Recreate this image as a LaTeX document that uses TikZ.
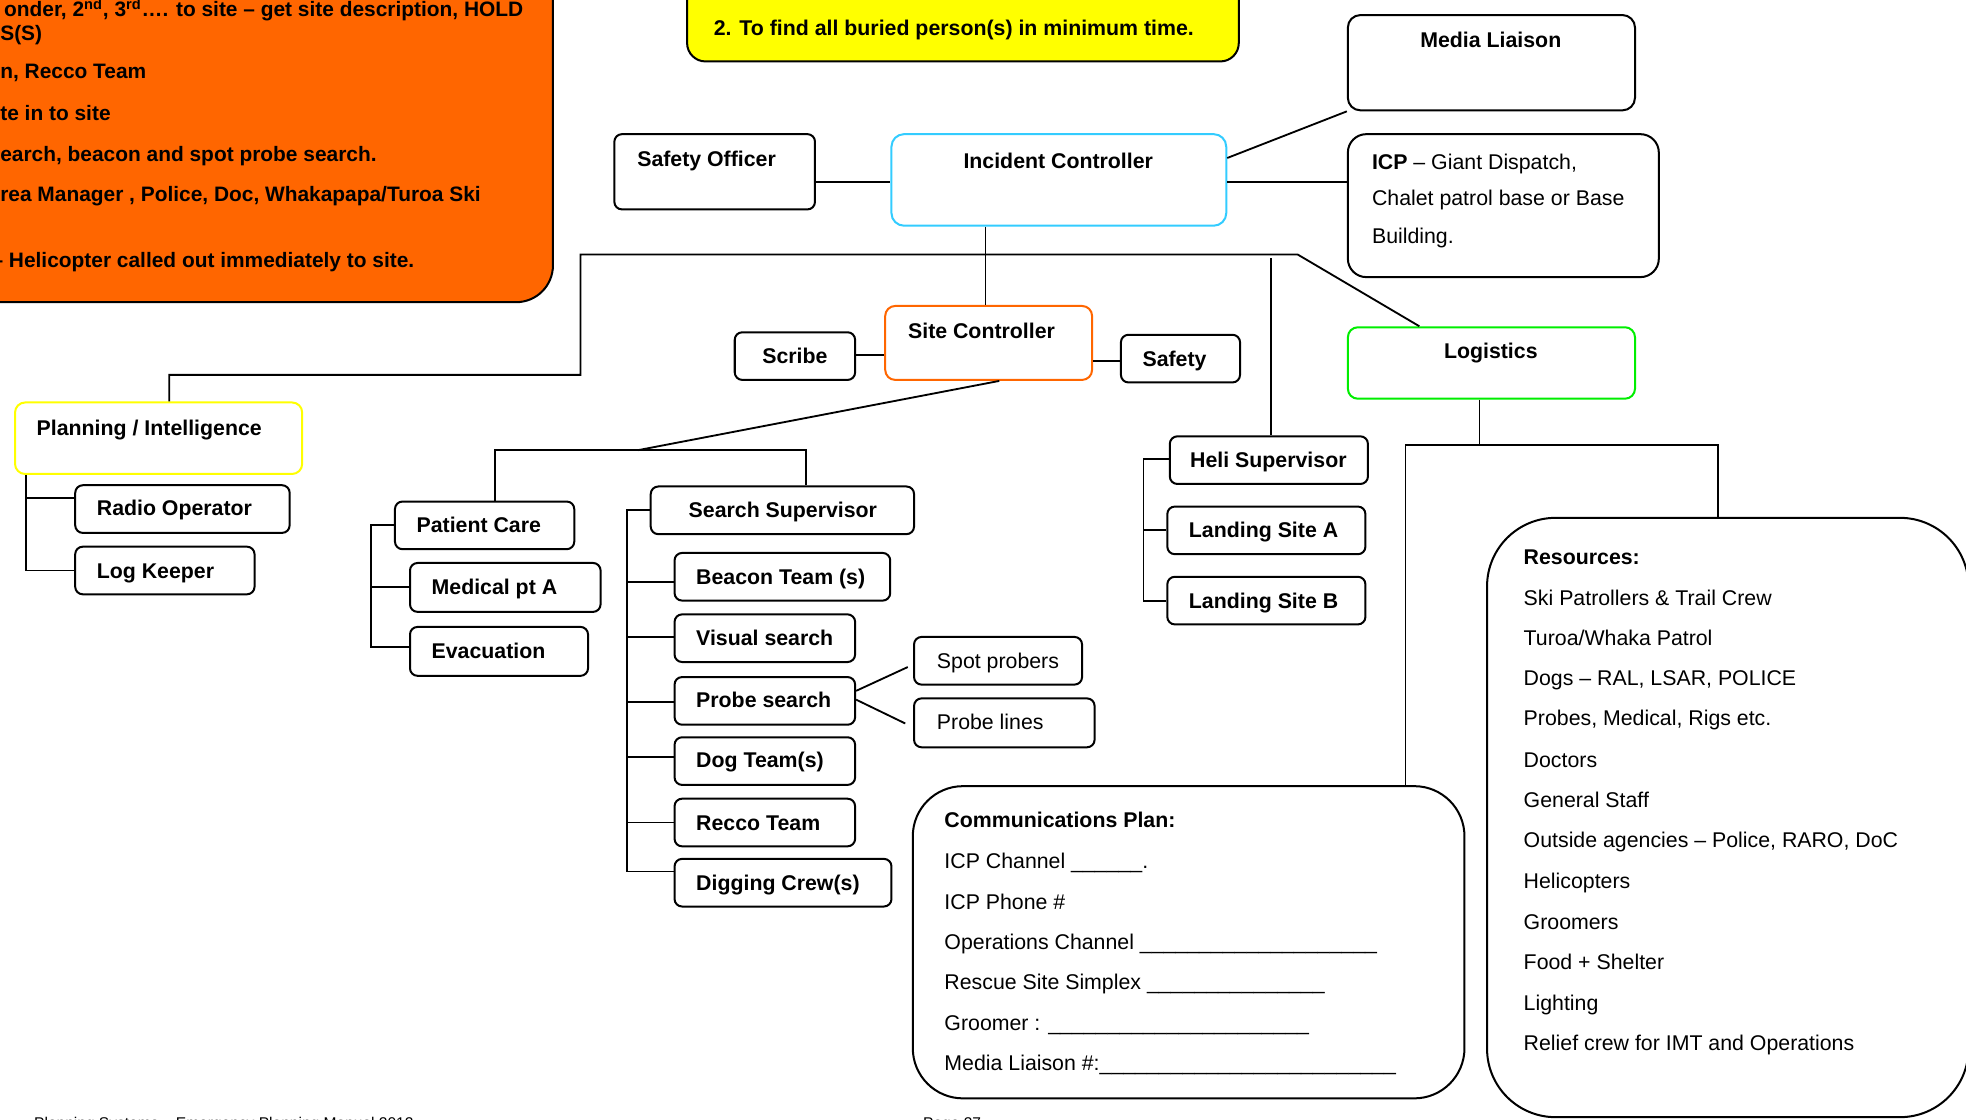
\documentclass[tikz,border=0pt]{standalone}
\usepackage{fontspec}
\setmainfont{Liberation Sans}
\usetikzlibrary{fit}
\definecolor{orangeA}{HTML}{FF6600}
\definecolor{yellowA}{HTML}{FFFF00}
\definecolor{cyanA}{HTML}{33CCFF}
\definecolor{greenA}{HTML}{00EE00}
\newcommand\mkbox[6][]{\node[box,#1,fit={(#3,#4) (#5,#6)}] (#2) {};}
\tikzset{
 box/.style={draw=black, line width=1.2pt, rounded corners=4.5pt, inner sep=0pt, fill=white},
 bt/.style={font=\fontsize{12.75}{15}\selectfont\bfseries, inner sep=0pt, anchor=base west},
 btc/.style={bt, anchor=base},
 rt/.style={font=\fontsize{12.75}{15}\selectfont, inner sep=0pt, anchor=base west},
 ot/.style={font=\fontsize{12.5}{15}\selectfont\bfseries, inner sep=0pt, anchor=base west},
 ft/.style={font=\fontsize{9.3}{11}\selectfont, inner sep=0pt, anchor=base west},
 conn/.style={draw=black, line width=1.1pt},
}
\begin{document}
\begin{tikzpicture}[x=0.75pt,y=-0.75pt]
\useasboundingbox (0,0) rectangle (1568,893);
% orange note
\node[draw=black, line width=1.2pt, fill=orangeA, rounded corners=22pt, inner sep=0pt, fit={(-60,-80) (441,241)}] (ob) {};
\node[ot] (o1) at (3,13) {onder, 2\textsuperscript{nd}, 3\textsuperscript{rd}…. to site – get site description, HOLD};
\node[ot] (o2) at (0,32) {S(S)};
\node[ot] (o3) at (0,63) {n, Recco Team};
\node[ot] (o4) at (0,96) {te in to site};
\node[ot] (o5) at (0,129) {earch, beacon and spot probe search.};
\node[ot] (o6) at (0,161) {rea Manager , Police, Doc, Whakapapa/Turoa Ski};
\node[ot] (o7) at (-7,213) {– Helicopter called out immediately to site.};
% yellow note
\node[draw=black, line width=1.2pt, fill=yellowA, rounded corners=11pt, inner sep=0pt, fit={(548,-60) (988,49)}] (yb) {};
\node[bt] (y1) at (569,28) {2. To find all buried person(s) in minimum time.};
% boxes
\mkbox{so}{490}{107}{650}{167}
\mkbox[draw=cyanA, rounded corners=7.5pt]{ic}{711}{107}{978}{180}
\mkbox[rounded corners=7.5pt]{ml}{1075}{12}{1304}{88}
\mkbox[rounded corners=11pt]{icp}{1075}{107}{1323}{221}
\mkbox[draw=orangeA, rounded corners=6pt]{sc}{706}{244}{871}{303}
\mkbox{scr}{586}{265}{682}{303}
\mkbox{saf}{894}{267}{989}{305}
\mkbox[draw=greenA, rounded corners=6pt]{log}{1075}{261}{1304}{318}
\mkbox[draw=yellowA, rounded corners=6pt]{pi}{12}{321}{241}{378}
\mkbox{ro}{60}{387}{231}{425}
\mkbox{lk}{60}{436}{203}{474}
\mkbox{pc}{315}{400}{458}{438}
\mkbox{mp}{327}{449}{479}{488}
\mkbox{ev}{327}{500}{469}{539}
\mkbox{ss}{519}{388}{729}{426}
\mkbox{bcn}{538}{441}{710}{479}
\mkbox{vis}{538}{490}{682}{528}
\mkbox{prb}{538}{540}{682}{578}
\mkbox{dog}{538}{588}{682}{626}
\mkbox{rec}{538}{637}{682}{675}
\mkbox{dig}{538}{685}{711}{723}
\mkbox{spp}{729}{508}{863}{546}
\mkbox{prl}{729}{557}{873}{596}
\mkbox{hs}{933}{348}{1091}{386}
\mkbox{lsa}{931}{404}{1089}{442}
\mkbox{lsb}{931}{460}{1089}{498}
\mkbox[rounded corners=30pt]{cp}{728}{627}{1168}{876}
\mkbox[rounded corners=41pt]{res}{1186}{413}{1570}{891}
% texts
\node[bt] (so-t) at (508,133) {Safety Officer};
\node[btc] (ic-t) at (844,134) {Incident Controller};
\node[btc] (ml-t) at (1189,38) {Media Liaison};
\node[rt] (icp-t1) at (1094,135) {\textbf{ICP} – Giant Dispatch,};
\node[rt] (icp-t2) at (1094,164) {Chalet patrol base or Base};
\node[rt] (icp-t3) at (1094,194) {Building.};
\node[bt] (sc-t) at (724,270) {Site Controller};
\node[btc] (scr-t) at (634,290) {Scribe};
\node[bt] (saf-t) at (911,292) {Safety};
\node[btc] (log-t) at (1189,286) {Logistics};
\node[bt] (pi-t) at (29,347) {Planning / Intelligence};
\node[bt] (ro-t) at (77,411) {Radio Operator};
\node[bt] (lk-t) at (77,461) {Log Keeper};
\node[bt] (pc-t) at (332,425) {Patient Care};
\node[bt] (mp-t) at (344,474) {Medical pt A};
\node[bt] (ev-t) at (344,525) {Evacuation};
\node[bt] (ss-t) at (549,413) {Search Supervisor};
\node[bt] (bcn-t) at (555,466) {Beacon Team (s)};
\node[bt] (vis-t) at (555,515) {Visual search};
\node[bt] (prb-t) at (555,564) {Probe search};
\node[bt] (dog-t) at (555,612) {Dog Team(s)};
\node[bt] (rec-t) at (555,662) {Recco Team};
\node[bt] (dig-t) at (555,710) {Digging Crew(s)};
\node[rt] (spp-t) at (747,533) {Spot probers};
\node[rt] (prl-t) at (747,582) {Probe lines};
\node[bt] (hs-t) at (949,373) {Heli Supervisor};
\node[bt] (lsa-t) at (948,429) {Landing Site A};
\node[bt] (lsb-t) at (948,485) {Landing Site B};
% communications plan
\node[bt] (c0) at (753,660) {Communications Plan:};
\node[rt] (c1) at (753,693) {ICP Channel \_\_\_\_\_\_.};
\node[rt] (c2) at (753,725) {ICP Phone \#};
\node[rt] (c3) at (753,757) {Operations Channel \_\_\_\_\_\_\_\_\_\_\_\_\_\_\_\_\_\_\_\_};
\node[rt] (c4) at (753,789) {Rescue Site Simplex \_\_\_\_\_\_\_\_\_\_\_\_\_\_\_};
\node[rt] (c5) at (753,822) {Groomer : \_\_\_\_\_\_\_\_\_\_\_\_\_\_\_\_\_\_\_\_\_\_};
\node[rt] (c6) at (753,854) {Media Liaison \#:\_\_\_\_\_\_\_\_\_\_\_\_\_\_\_\_\_\_\_\_\_\_\_\_\_};
% resources
\node[bt] (r0) at (1215,450) {Resources:};
\node[rt] (r1) at (1215,483) {Ski Patrollers \& Trail Crew};
\node[rt] (r2) at (1215,515) {Turoa/Whaka Patrol};
\node[rt] (r3) at (1215,547) {Dogs – RAL, LSAR, POLICE};
\node[rt] (r4) at (1215,579) {Probes, Medical, Rigs etc.};
\node[rt] (r5) at (1215,612) {Doctors};
\node[rt] (r6) at (1215,644) {General Staff};
\node[rt] (r7) at (1215,676) {Outside agencies – Police, RARO, DoC};
\node[rt] (r8) at (1215,709) {Helicopters};
\node[rt] (r9) at (1215,741) {Groomers};
\node[rt] (r10) at (1215,773) {Food + Shelter};
\node[rt] (r11) at (1215,806) {Lighting};
\node[rt] (r12) at (1215,838) {Relief crew for IMT and Operations};
% footer
\node[ft] (ft1) at (27,900) {Planning Systems – Emergency Planning Manual 2012};
\node[ft] (ft2) at (736,900) {Page 37};
% connectors
\draw[conn] (so.east |- 0,145) -- (ic.west |- 0,145);
\draw[conn] (ic.east |- 0,126) -- (ml.south west);
\draw[conn] (ic.east |- 0,145) -- (icp.west |- 0,145);
\draw[conn] (ic.south -| 786,0) -- (sc.north -| 786,0);
\draw[conn] (pi.north -| 135,0) |- (463,299) -- (463,203) -- (1035,203) -- (log.north -| 1132,0);
\coordinate (hj) at (1014,206);
\draw[conn] (hj) -- (hs.north -| 1014,0);
\draw[conn] (scr.east |- 0,283) -- (sc.west |- 0,283);
\draw[conn] (sc.east |- 0,288) -- (saf.west |- 0,288);
\draw[conn] (sc.south -| 797,0) -- (509,359);
\draw[conn] (pc.north -| 395,0) -- (395,359) -- (643,359) -- (ss.north -| 643,0);
\draw[conn] (pi.south -| 21,0) -- (21,455) -- (lk.west |- 0,455);
\draw[conn] (21,397) -- (ro.west |- 0,397);
\draw[conn] (pc.west |- 0,419) -- (296,419) -- (296,516) -- (ev.west |- 0,516);
\draw[conn] (296,468) -- (mp.west |- 0,468);
\draw[conn] (ss.west |- 0,407) -- (500,407) -- (500,695) -- (dig.west |- 0,695);
\draw[conn] (500,464) -- (bcn.west |- 0,464);
\draw[conn] (500,508) -- (vis.west |- 0,508);
\draw[conn] (500,560) -- (prb.west |- 0,560);
\draw[conn] (500,604) -- (dog.west |- 0,604);
\draw[conn] (500,656) -- (rec.west |- 0,656);
\coordinate (spin) at (724,532);
\coordinate (plin) at (722,577);
\draw[conn] (prb.east |- 0,551) -- (spin);
\draw[conn] (prb.east |- 0,558) -- (plin);
\draw[conn] (hs.west |- 0,366) -- (912,366) -- (912,479) -- (lsb.west |- 0,479);
\draw[conn] (912,423) -- (lsa.west |- 0,423);
\draw[conn] (log.south -| 1180,0) -- (1180,355);
\draw[conn] (cp.north -| 1121,0) -- (1121,355) -- (1370,355) -- (res.north -| 1370,0);
\end{tikzpicture}
\end{document}
